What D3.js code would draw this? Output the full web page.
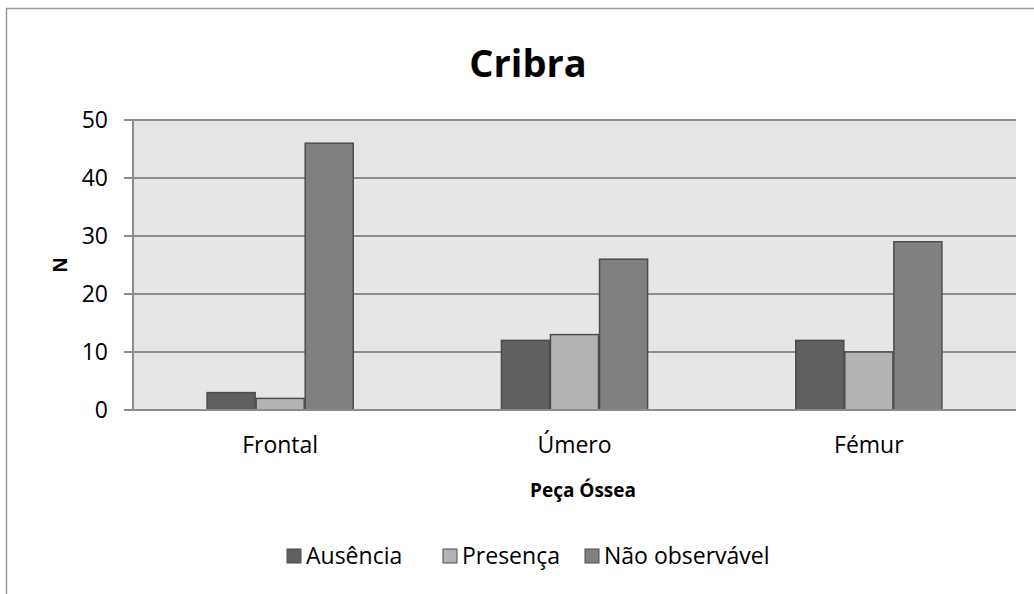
<!DOCTYPE html>
<html><head><meta charset="utf-8">
<script src="https://cdn.jsdelivr.net/npm/d3@7"></script>
<style>body{margin:0;background:#fff;} svg{display:block;font-family:"Open Sans","Lato",sans-serif;}</style>
</head><body>
<svg id="c" width="1034" height="594"></svg>
<script>
const categories = ["Frontal", "Úmero", "Fémur"];
const seriesNames = ["Ausência", "Presença", "Não observável"];
const ausencia = [3, 12, 12];
const presenca = [2, 13, 10];
const naoObservavel = [46, 26, 29];
const yTicks = [0, 10, 20, 30, 40, 50];
const colors = ["#606060", "#b3b3b3", "#808080"];
const series = [ausencia, presenca, naoObservavel];

const svg = d3.select("#c");
// outer frame
svg.append("rect").attr("x", 6.5).attr("y", 8.5).attr("width", 1100).attr("height", 700)
  .attr("fill", "#fff").attr("stroke", "#9a9a9a").attr("stroke-width", 1.5);

const L = 133, R = 1016, T = 120, B = 410;
const x = d3.scaleBand().domain(categories).range([L, R]).paddingInner(0).paddingOuter(0);
const y = d3.scaleLinear().domain([0, 50]).range([B, T]);
const inner = d3.scaleBand().domain(d3.range(3)).range([0, x.bandwidth() / 2]);

svg.append("rect").attr("x", L).attr("y", T).attr("width", R - L).attr("height", B - T).attr("fill", "#e6e6e6");

// gridlines
svg.append("g").selectAll("line").data(yTicks).join("line")
  .attr("x1", L - 9).attr("x2", R).attr("y1", d => y(d)).attr("y2", d => y(d))
  .attr("stroke", "#8c8c8c").attr("stroke-width", 2);

// y axis line
svg.append("line").attr("x1", L).attr("x2", L).attr("y1", T).attr("y2", B)
  .attr("stroke", "#8c8c8c").attr("stroke-width", 2);

// bars
series.forEach((vals, si) => {
  svg.append("g").selectAll("rect").data(vals).join("rect")
    .attr("x", (d, i) => x(categories[i]) + x.bandwidth() / 4 + inner(si) + 0.5)
    .attr("y", d => y(d))
    .attr("width", inner.bandwidth() - 1)
    .attr("height", d => y(0) - y(d))
    .attr("fill", colors[si]).attr("stroke", "#4d4d4d").attr("stroke-width", 1.5);
});
// bottom axis line
svg.append("line").attr("x1", L - 9).attr("x2", R).attr("y1", B).attr("y2", B)
  .attr("stroke", "#8c8c8c").attr("stroke-width", 2);

// y tick labels
svg.append("g").selectAll("text").data(yTicks).join("text")
  .attr("x", 108).attr("y", d => y(d)).attr("dy", "0.35em").attr("text-anchor", "end")
  .attr("font-size", 23).attr("fill", "#000").text(d => d);

// category labels
svg.append("g").selectAll("text").data(categories).join("text")
  .attr("x", d => x(d) + x.bandwidth() / 2).attr("y", 445).attr("dy", "0.35em")
  .attr("text-anchor", "middle").attr("font-size", 23).attr("fill", "#000").text(d => d);

// titles
svg.append("text").attr("x", 528).attr("y", 64).attr("dy", "0.35em").attr("text-anchor", "middle")
  .attr("font-size", 38).attr("font-weight", "bold").text("Cribra");
svg.append("text").attr("x", 583).attr("y", 490).attr("dy", "0.35em").attr("text-anchor", "middle")
  .attr("font-size", 19).attr("font-weight", "bold").text("Peça Óssea");
svg.append("text").attr("transform", "translate(60,265) rotate(-90)").attr("dy", "0.35em")
  .attr("text-anchor", "middle").attr("font-size", 19).attr("font-weight", "bold").text("N");

// legend
const legX = [287, 443, 585];
const lg = svg.append("g").selectAll("g").data(seriesNames).join("g")
  .attr("transform", (d, i) => `translate(${legX[i]},556)`);
lg.append("rect").attr("x", 0).attr("y", -7).attr("width", 14).attr("height", 14)
  .attr("fill", (d, i) => colors[i]).attr("stroke", "#4d4d4d").attr("stroke-width", 1);
lg.append("text").attr("x", 19).attr("y", 0).attr("dy", "0.35em").attr("font-size", 23).text(d => d);
</script>
</body></html>
